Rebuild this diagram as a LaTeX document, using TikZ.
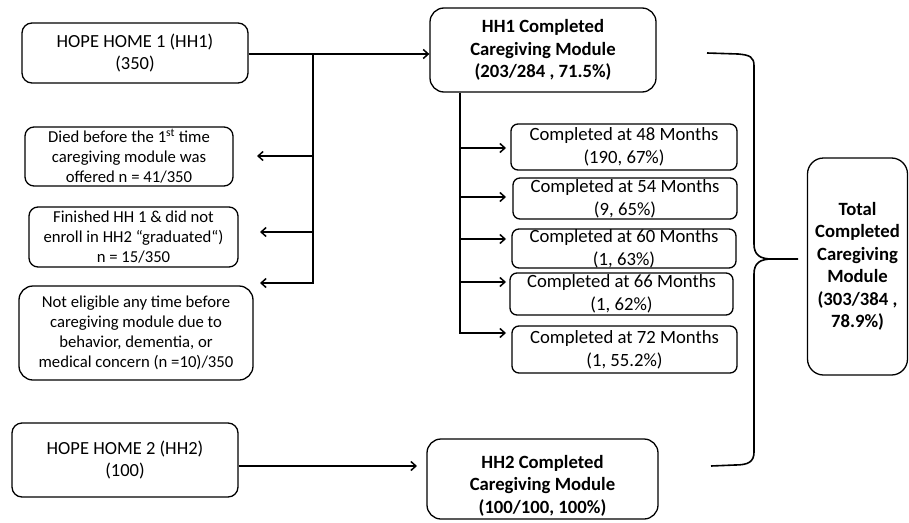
\documentclass[tikz,border=0pt]{standalone}
\usepackage{fontspec}
\setmainfont{Carlito}
\usetikzlibrary{arrows.meta}
\begin{document}
\begin{tikzpicture}[x=1pt,y=-1pt,
 box/.style={draw, line width=1.3pt, rounded corners=10pt, align=center, inner sep=0pt, font=\fontsize{18.5}{21.5}\selectfont},
 lbox/.style={box, rounded corners=9pt, font=\fontsize{16.7}{20}\selectfont},
 sbox/.style={box, rounded corners=7pt, font=\fontsize{18.7}{23}\selectfont},
 bbox/.style={box, rounded corners=14pt, font=\fontsize{18.7}{22.5}\selectfont\bfseries},
 arr/.style={line width=1.5pt, -{Straight Barb[length=5pt,width=9pt]}},
 ln/.style={line width=1.6pt}]
\useasboundingbox (0,0) rectangle (909,522);

% left column
\node[box, minimum width=226pt, minimum height=60pt] (hh1) at (135,53) {HOPE HOME 1 (HH1)\\(350)};
\node[lbox, minimum width=208pt, minimum height=59pt] (died) at (129,156.5) {Died before the 1\textsuperscript{st} time\\caregiving module was\\offered n = 41/350};
\node[lbox, minimum width=209pt, minimum height=60pt] (fin) at (133.5,237) {Finished HH 1 \& did not\\enroll in HH2 “graduated“)\\n = 15/350};
\node[lbox, rounded corners=14pt, minimum width=234pt, minimum height=94pt] (elig) at (136,333) {Not eligible any time before\\caregiving module due to\\behavior, dementia, or\\medical concern (n =10)/350};
\node[box, minimum width=226pt, minimum height=74pt] (hh2) at (125,460) {HOPE HOME 2 (HH2)\\(100)};

% middle column
\node[bbox, minimum width=226pt, minimum height=84pt] (hh1c) at (543,50) {HH1 Completed\\Caregiving Module\\(203/284 , 71.5\%)};
\node[sbox, minimum width=226pt, minimum height=46pt] (m48) at (624,147) {Completed at 48 Months\\(190, 67\%)};
\node[sbox, minimum width=224pt, minimum height=41pt] (m54) at (625,198.5) {Completed at 54 Months\\(9, 65\%)};
\node[sbox, minimum width=224pt, minimum height=39pt] (m60) at (624,248.5) {Completed at 60 Months\\(1, 63\%)};
\node[sbox, minimum width=223pt, minimum height=42pt] (m66) at (621.5,294) {Completed at 66 Months\\(1, 62\%)};
\node[sbox, minimum width=225pt, minimum height=47pt] (m72) at (624.5,349.5) {Completed at 72 Months\\(1, 55.2\%)};
\node[bbox, minimum width=231pt, minimum height=80pt] (hh2c) at (542.5,479) {\rule{0pt}{26pt}HH2 Completed\\Caregiving Module\\(100/100, 100\%)};

% right
\node[bbox, rounded corners=16pt, minimum width=100pt, minimum height=217pt] (tot) at (857.5,266.5) {Total\\Completed\\Caregiving\\Module\\(303/384 ,\\78.9\%)};

% HH1 connectors
\coordinate (j1) at (313,54);
\coordinate (e1) at (257,156);
\coordinate (e2) at (260,232);
\coordinate (e3) at (260,283);
\draw[arr] (hh1.east |- j1) -- (j1 -| hh1c.west);
\draw[arr] (j1) -- (j1 |- e3) -- (e3);
\draw[arr] (j1 |- e1) -- (e1);
\draw[arr] (j1 |- e2) -- (e2);

% HH1C spine
\coordinate (s0) at (460,92);
\coordinate (f1) at (506,148);
\coordinate (f2) at (506,197);
\coordinate (f3) at (506,239);
\coordinate (f4) at (506,282);
\coordinate (f5) at (506,333);
\draw[arr] (hh1c.south -| s0) -- (s0 |- f5) -- (f5);
\draw[arr] (s0 |- f1) -- (f1);
\draw[arr] (s0 |- f2) -- (f2);
\draw[arr] (s0 |- f3) -- (f3);
\draw[arr] (s0 |- f4) -- (f4);

% HH2 connector
\coordinate (h2e) at (417,466);
\draw[arr] (hh2.east |- h2e) -- (h2e);

% bracket
\coordinate (nib) at (798,259);
\draw[ln] (707,53) -- (738,54) .. controls (750,55) and (754,57) .. (754,66)
  -- (754,244) .. controls (754,255) and (760,259) .. (772,259) -- (nib);
\draw[ln] (772,259) .. controls (760,259) and (754,263) .. (754,274)
  -- (754,452) .. controls (754,462) and (748,465) .. (735,465) -- (711,466);
\end{tikzpicture}
\end{document}
